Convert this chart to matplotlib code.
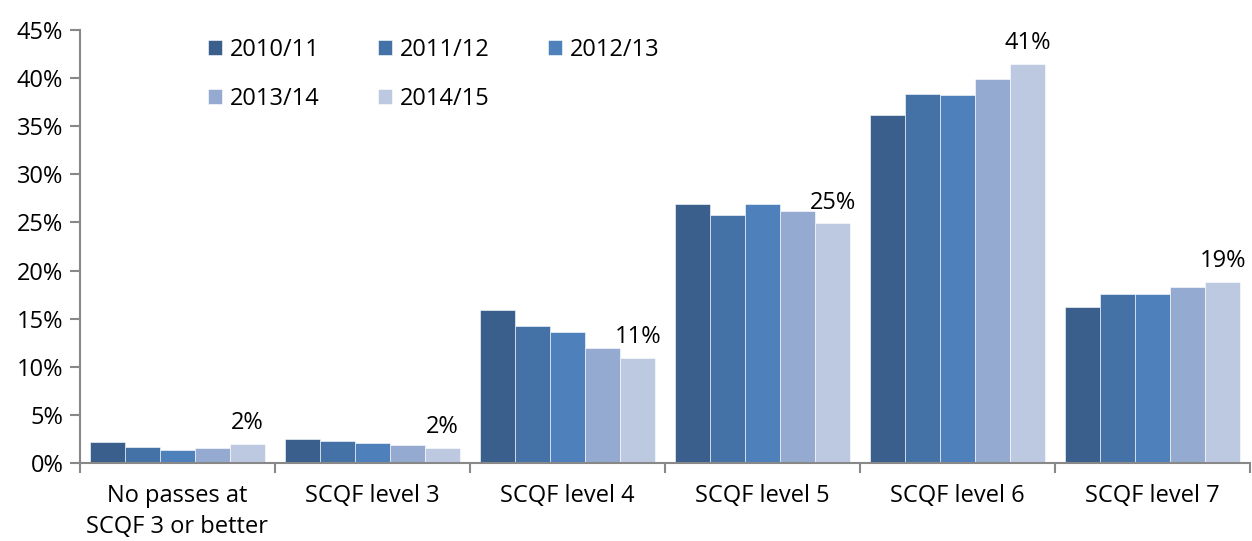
import numpy as np
import matplotlib
matplotlib.use('agg')
import matplotlib.pyplot as plt
from matplotlib.ticker import FuncFormatter

plt.rcParams['font.family'] = ['Open Sans', 'DejaVu Sans']

# Data
categories = ['No passes at\nSCQF 3 or better', 'SCQF level 3', 'SCQF level 4',
              'SCQF level 5', 'SCQF level 6', 'SCQF level 7']
years = ['2010/11', '2011/12', '2012/13', '2013/14', '2014/15']
v_2010 = [2.2, 2.5, 15.9, 26.9, 36.2, 16.2]
v_2011 = [1.7, 2.3, 14.2, 25.8, 38.3, 17.6]
v_2012 = [1.4, 2.1, 13.6, 26.9, 38.2, 17.6]
v_2013 = [1.6, 1.9, 11.9, 26.2, 39.9, 18.3]
v_2014 = [2.0, 1.6, 10.9, 24.9, 41.5, 18.8]
last_labels = ['2%', '2%', '11%', '25%', '41%', '19%']

series = [v_2010, v_2011, v_2012, v_2013, v_2014]
colors = ['#3b5f8d', '#4472a6', '#4e80bb', '#95aad0', '#bdc9e1']

fs = 17

fig = plt.figure(figsize=(12.52, 5.41), dpi=100)
ax = fig.add_axes([80 / 1252, 1 - 463 / 541, 1170 / 1252, 433 / 541])

x = np.arange(len(categories)) + 0.5
bw = 0.18
handles = []
for i, (vals, col, yr) in enumerate(zip(series, colors, years)):
    b = ax.bar(x + (i - 2) * bw, vals, width=bw, color=col, label=yr,
               edgecolor='white', linewidth=0.4)
    handles.append(b)

# label on last bar of each group
for xi, v, lab in zip(x, v_2014, last_labels):
    ax.text(xi + 2 * bw, v + 0.9, lab, ha='center', va='bottom', fontsize=fs)

ax.set_xlim(0, len(categories))
ax.set_ylim(0, 45)
ax.set_yticks(np.arange(0, 46, 5))
ax.yaxis.set_major_formatter(FuncFormatter(lambda v, p: '%d%%' % v))
ax.set_xticks(np.arange(0, len(categories) + 1))
ax.set_xticklabels([])
ax.set_xticks(x, minor=True)
ax.set_xticklabels(categories, minor=True, fontsize=fs, linespacing=1.4)
ax.tick_params(axis='x', which='minor', length=0, pad=15)
ax.tick_params(axis='x', which='major', length=7, color='#888888', width=1.5)
ax.tick_params(axis='y', length=7, color='#888888', width=1.5, labelsize=fs, pad=5)

for s in ['top', 'right']:
    ax.spines[s].set_visible(False)
for s in ['left', 'bottom']:
    ax.spines[s].set_color('#888888')
    ax.spines[s].set_linewidth(1.5)

# row-wise legend order for 3 columns
order = [0, 3, 1, 4, 2]
ax.legend([handles[k] for k in order], [years[k] for k in order],
          loc='upper left', bbox_to_anchor=(0.091, 1.03), ncol=3, frameon=False,
          fontsize=fs, handlelength=0.6, handleheight=0.6, handletextpad=0.35,
          columnspacing=2.45, labelspacing=1.05)

fig.savefig('out.png', dpi=100)
